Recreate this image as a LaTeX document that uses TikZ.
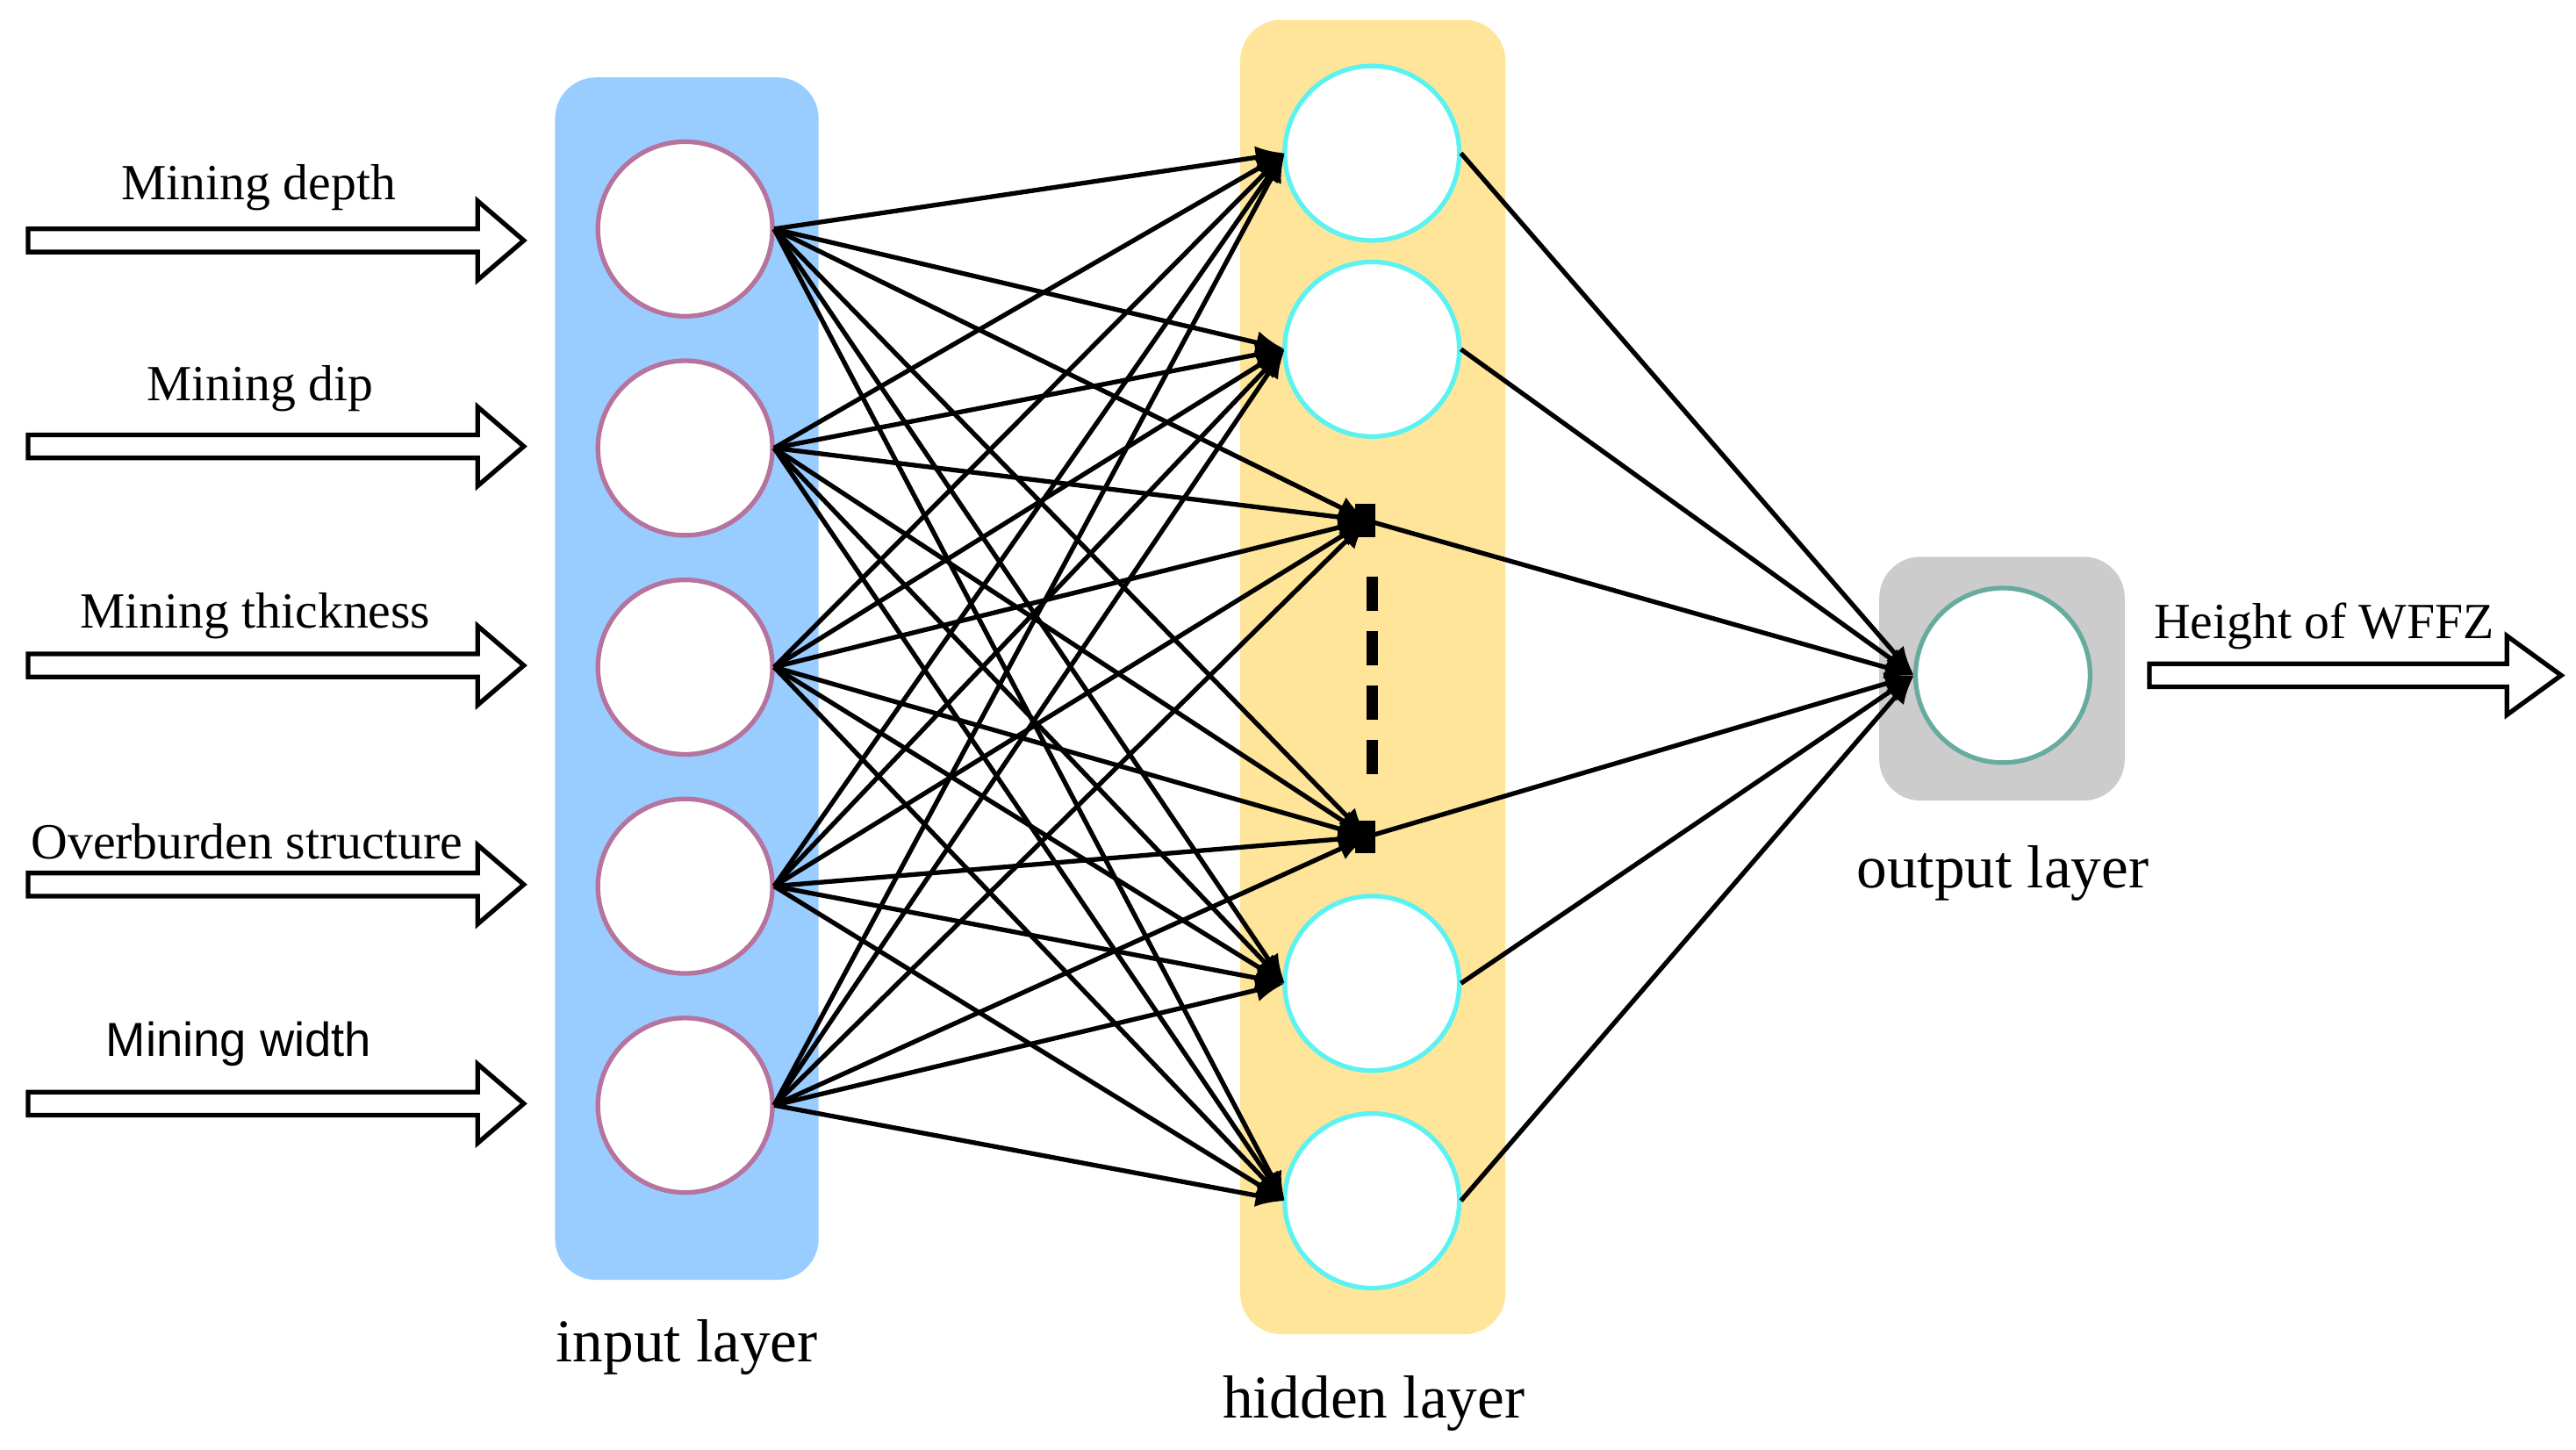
\documentclass[tikz,border=0pt]{standalone}
\usepackage{fontspec}
\setmainfont{Liberation Serif}
\newfontfamily\sansf{Liberation Sans}
\usetikzlibrary{arrows.meta}
\definecolor{inb}{HTML}{B5739D}
\definecolor{hidb}{HTML}{5CF2F2}
\definecolor{outb}{HTML}{67AB9F}
\definecolor{blueb}{HTML}{99CCFF}
\definecolor{yelb}{HTML}{FFE599}
\begin{document}
\begin{tikzpicture}[x=0.02cm,y=-0.02cm,
  inc/.style={circle,draw=inb,line width=1.6pt,fill=white,minimum size=2.12cm,inner sep=0},
  hidc/.style={circle,draw=hidb,line width=1.6pt,fill=white,minimum size=2.12cm,inner sep=0},
  outc/.style={circle,draw=outb,line width=1.6pt,fill=white,minimum size=2.12cm,inner sep=0},
  con/.style={line width=1.6pt,-{Latex[length=10pt,width=8pt]}},
  lbl/.style={font=\fontsize{17.5}{20}\selectfont},
  big/.style={font=\fontsize{21}{24}\selectfont}]
\useasboundingbox (0,0) rectangle (1564,880);
\fill[blueb, rounded corners=0.5cm] (337,47) rectangle (497,777);
\fill[yelb, rounded corners=0.5cm] (753,12) rectangle (914,810);
\fill[gray!40, rounded corners=0.5cm] (1141,338) rectangle (1290,486);
\foreach \i/\y in {1/139,2/272,3/405,4/538,5/671}{
  \node[inc] (i\i) at (416,\y) {};
  \coordinate (ie\i) at (470,\y);
}
\foreach \i/\y in {1/93,2/212,5/597,6/729}{
  \node[hidc] (h\i) at (833,\y) {};
  \coordinate (he\i) at (780,\y);
  \coordinate (ho\i) at (887,\y);
}
\coordinate (he3) at (830,316); \coordinate (ho3) at (830,316);
\coordinate (he4) at (830,508); \coordinate (ho4) at (830,508);
\fill (823,306) rectangle (835,326);
\fill (823,498) rectangle (835,518);
\draw[line width=4pt, dash pattern=on 0.42cm off 0.24cm] (833,350) -- (833,470);
\node[outc] (o) at (1216,410) {};
\coordinate (oe) at (1162,410);
\foreach \i in {1,...,5}{\foreach \j in {1,...,6}{\draw[con] (ie\i) -- (he\j);}}
\foreach \j in {1,...,6}{\draw[con] (ho\j) -- (oe);}
\foreach \y in {146,271,404,537,670}{
  \draw[line width=1.6pt,fill=white] (17,\y-7) -- (290,\y-7) -- (290,\y-24) -- (318,\y) -- (290,\y+24) -- (290,\y+7) -- (17,\y+7) -- cycle;
}
\draw[line width=1.6pt,fill=white] (1305,403) -- (1522,403) -- (1522,386) -- (1555,410) -- (1522,434) -- (1522,417) -- (1305,417) -- cycle;
\node[lbl] (t1) at (157,114) {Mining depth};
\node[lbl] (t2) at (158,236) {Mining dip};
\node[lbl] (t3) at (155,374) {Mining thickness};
\node[lbl] (t4) at (150,511) {Overburden structure};
\node[font=\sansf\fontsize{16.5}{19}\selectfont] (t5) at (145,634) {Mining width};
\node[lbl] (t6) at (1411,380) {Height of WFFZ};
\node[big] (l1) at (417,818) {input layer};
\node[big] (l2) at (834,852) {hidden layer};
\node[big] (l3) at (1216,530) {output layer};
\end{tikzpicture}
\end{document}
